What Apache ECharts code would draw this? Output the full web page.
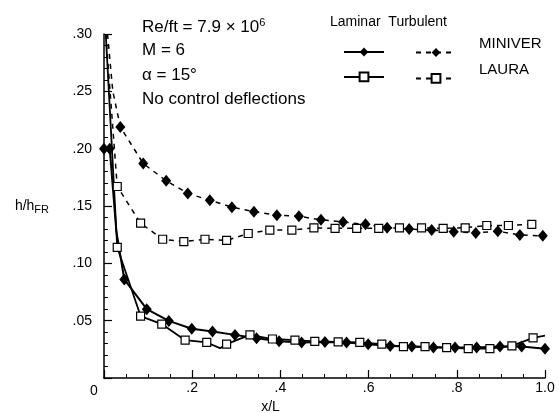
<!DOCTYPE html>
<html>
<head>
<meta charset="utf-8">
<script src="https://cdn.jsdelivr.net/npm/echarts@6/dist/echarts.min.js"></script>
<style>html,body{margin:0;padding:0;background:#fff;}#c{width:559px;height:413px;}</style>
</head>
<body>
<div id="c"></div>
<script>
// ---- data (x/L, h/hFR) ----
const lamMiniverX = [0, 0.013, 0.028, 0.046, 0.097, 0.147, 0.199, 0.246, 0.297, 0.346, 0.397, 0.448, 0.501, 0.55, 0.599, 0.649, 0.698, 0.747, 0.796, 0.845, 0.898, 0.947, 1.0];
const lamMiniverY = [0.200, 0.200, 0.128, 0.086, 0.060, 0.0498, 0.043, 0.0405, 0.0376, 0.0347, 0.032, 0.031, 0.0315, 0.031, 0.0295, 0.028, 0.0274, 0.0265, 0.0265, 0.0265, 0.0274, 0.0274, 0.0256];
const lamMiniverMarked = [1,1,0,1,1,1,1,1,1,1,1,1,1,1,1,1,1,1,1,1,1,1,1];

const turbMiniverX = [0.008, 0.02, 0.037, 0.089, 0.141, 0.19, 0.24, 0.29, 0.34, 0.392, 0.442, 0.492, 0.542, 0.593, 0.642, 0.692, 0.743, 0.793, 0.843, 0.893, 0.943, 0.995];
const turbMiniverY = [0.30, 0.25, 0.219, 0.187, 0.172, 0.161, 0.155, 0.149, 0.145, 0.142, 0.141, 0.138, 0.136, 0.134, 0.131, 0.130, 0.129, 0.1276, 0.1265, 0.128, 0.1247, 0.124];
const turbMiniverMarked = [0,0,1,1,1,1,1,1,1,1,1,1,1,1,1,1,1,1,1,1,1,1];

const lamLauraX = [0.004, 0.03, 0.083, 0.131, 0.184, 0.233, 0.263, 0.278, 0.331, 0.382, 0.433, 0.478, 0.531, 0.580, 0.630, 0.679, 0.728, 0.777, 0.826, 0.875, 0.925, 0.973, 1.0];
const lamLauraY = [0.30, 0.114, 0.054, 0.047, 0.033, 0.031, 0.026, 0.0295, 0.0376, 0.034, 0.033, 0.032, 0.0315, 0.031, 0.0295, 0.0274, 0.0274, 0.0265, 0.0256, 0.0256, 0.028, 0.035, 0.037];
const lamLauraMarked = [0,1,1,1,1,1,0,1,1,1,1,1,1,1,1,1,1,1,1,1,1,1,0];

const turbLauraX = [0.004, 0.03, 0.083, 0.133, 0.181, 0.229, 0.278, 0.327, 0.376, 0.426, 0.476, 0.524, 0.573, 0.623, 0.670, 0.720, 0.769, 0.819, 0.868, 0.917, 0.970];
const turbLauraY = [0.30, 0.167, 0.135, 0.121, 0.119, 0.121, 0.120, 0.126, 0.129, 0.129, 0.131, 0.1305, 0.1305, 0.1305, 0.131, 0.131, 0.1305, 0.131, 0.133, 0.133, 0.134];
const turbLauraMarked = [0,1,1,1,1,1,1,1,1,1,1,1,1,1,1,1,1,1,1,1,1];

const xTicks = [0, 0.2, 0.4, 0.6, 0.8, 1.0];
const xTickLabels = ['0', '.2', '.4', '.6', '.8', '1.0'];
const yTickLabels = ['', '.05', '.10', '.15', '.20', '.25', '.30'];

const annotations = ['Re/ft = 7.9 × 10{sup|6}', 'M = 6', 'α = 15°', 'No control deflections'];
// -----------------------------

function build(xs, ys, marked) {
  return xs.map((x, i) => marked[i] ? [x, ys[i]] : { value: [x, ys[i]], symbol: 'none' });
}

const FONT = '"Liberation Sans", Arial, Helvetica, sans-serif';
const chart = echarts.init(document.getElementById('c'), null, { renderer: 'canvas' });

const diamond = { symbol: 'diamond', symbolSize: [10, 12], itemStyle: { color: '#000' } };
const square = { symbol: 'rect', symbolSize: 8, itemStyle: { color: '#fff', borderColor: '#000', borderWidth: 1.2 } };

chart.setOption({
  animation: false,
  backgroundColor: '#fff',
  textStyle: { fontFamily: FONT, color: '#000' },
  grid: { left: 104, right: 14, top: 34, bottom: 35, outerBoundsMode: 'none', containLabel: false },
  title: annotations.map((t, i) => ({
    text: t, left: 142, top: 17 + i * 24.7, padding: 0,
    textStyle: { fontFamily: FONT, fontSize: 17, fontWeight: 'normal', color: '#000',
      rich: { sup: { fontSize: 11, verticalAlign: 'bottom', padding: [0, 0, 9, 0], fontFamily: FONT, color: '#000' } } }
  })).concat([{
    text: 'Laminar  Turbulent', left: 330, top: 15, padding: 0,
    textStyle: { fontFamily: FONT, fontSize: 14, fontWeight: 'normal', color: '#000' }
  }]),
  legend: [{
    data: ['Laminar MINIVER', 'Laminar LAURA'],
    orient: 'vertical', left: 343, top: 46.5, padding: 0,
    itemWidth: 40, itemHeight: 11, itemGap: 15,
    formatter: () => '', selectedMode: false
  }, {
    data: ['Turbulent MINIVER', 'Turbulent LAURA'],
    orient: 'vertical', left: 415, top: 36, padding: 0,
    itemWidth: 40, itemHeight: 11, itemGap: 5,
    formatter: n => '{t|' + n.replace('Turbulent ', '') + '}', selectedMode: false,
    textStyle: { rich: { t: { fontFamily: FONT, fontSize: 15, color: '#000', padding: [0, 0, 18, 18] } } }
  }],
  xAxis: {
    type: 'value', min: 0, max: 1, interval: 0.2,
    name: 'x/L', nameLocation: 'middle', nameGap: 22, nameMoveOverlap: false,
    nameTextStyle: { fontFamily: FONT, fontSize: 14, color: '#000', padding: [0, 108, 0, 0] },
    axisLine: { lineStyle: { color: '#000', width: 1.5 } },
    axisTick: { inside: true, length: 8, lineStyle: { color: '#000', width: 1.2 } },
    minorTick: { show: true, splitNumber: 4, length: 4, lineStyle: { color: '#000', width: 1 } },
    splitLine: { show: false },
    axisLabel: {
      margin: 3, fontFamily: FONT, fontSize: 14, color: '#000',
      formatter: v => { const i = xTicks.findIndex(t => Math.abs(t - v) < 1e-9); return i === 0 ? '{z|0}' : (i >= 0 ? xTickLabels[i] : ''); },
      rich: { z: { fontFamily: FONT, fontSize: 14, color: '#000', padding: [3, 20, 0, 0] } }
    }
  },
  yAxis: {
    type: 'value', min: 0, max: 0.30, interval: 0.05,
    name: 'h/h{s|FR}', nameLocation: 'middle', nameRotate: 0, nameGap: 55, nameMoveOverlap: false,
    nameTextStyle: { fontFamily: FONT, fontSize: 14, color: '#000',
      rich: { s: { fontSize: 11, fontFamily: FONT, color: '#000', verticalAlign: 'top', padding: [8, 0, 0, 0] } } },
    axisLine: { lineStyle: { color: '#000', width: 1.5 } },
    axisTick: { inside: true, length: 8, lineStyle: { color: '#000', width: 1.2 } },
    minorTick: { show: true, splitNumber: 5, length: 4, lineStyle: { color: '#000', width: 1 } },
    splitLine: { show: false },
    axisLabel: {
      margin: 12, fontFamily: FONT, fontSize: 14, color: '#000', padding: [8, 0, 0, 0],
      formatter: v => yTickLabels[Math.round(v / 0.05)] || ''
    }
  },
  series: [
    Object.assign({ name: 'Laminar MINIVER', type: 'line', data: build(lamMiniverX, lamMiniverY, lamMiniverMarked),
      lineStyle: { color: '#000', width: 2 }, z: 3 }, diamond),
    Object.assign({ name: 'Laminar LAURA', type: 'line', data: build(lamLauraX, lamLauraY, lamLauraMarked),
      lineStyle: { color: '#000', width: 1.8 }, z: 4 }, square),
    Object.assign({ name: 'Turbulent MINIVER', type: 'line', data: build(turbMiniverX, turbMiniverY, turbMiniverMarked),
      lineStyle: { color: '#000', width: 1.5, type: [5, 5] }, z: 3 }, diamond),
    Object.assign({ name: 'Turbulent LAURA', type: 'line', data: build(turbLauraX, turbLauraY, turbLauraMarked),
      lineStyle: { color: '#000', width: 1.5, type: [5, 5] }, z: 4 }, square)
  ]
});
</script>
</body>
</html>
